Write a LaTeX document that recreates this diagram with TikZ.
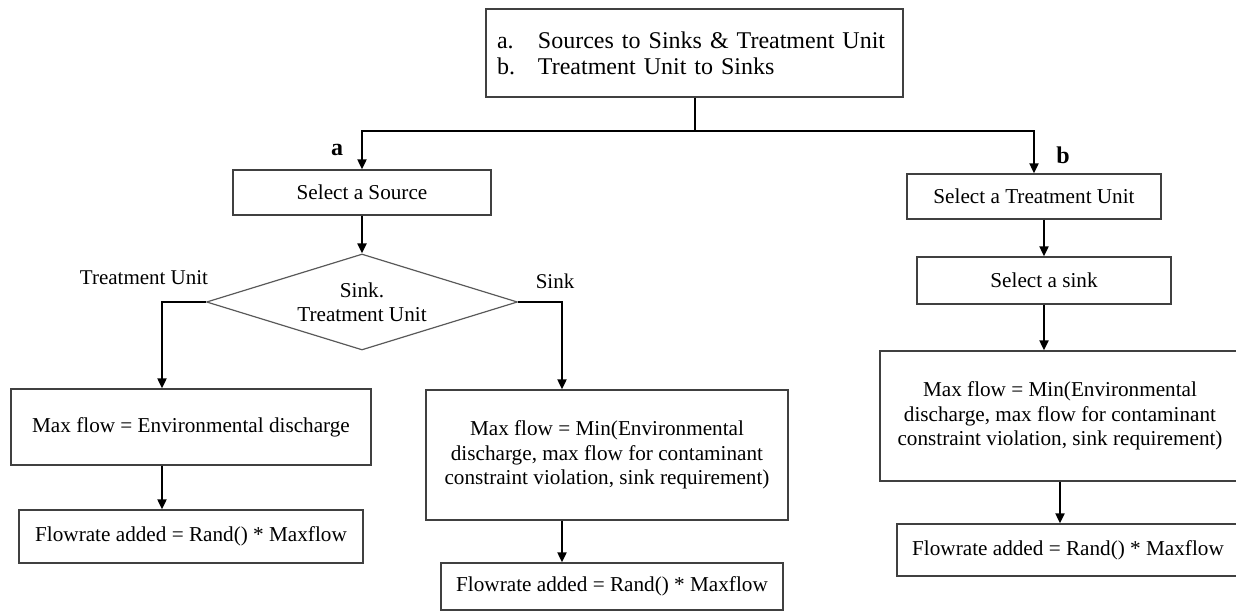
\documentclass[tikz,border=0pt]{standalone}
\usepackage{fontspec}
\setmainfont{Liberation Serif}
\usetikzlibrary{arrows.meta,shapes.geometric}
\begin{document}
\begin{tikzpicture}[x=1pt,y=-1pt,
  box/.style={draw=black!75,line width=1.3pt,rectangle,inner sep=0pt,align=center,
    font=\fontsize{21.2}{24.5}\selectfont},
  decision/.style={draw=black!65,line width=1.2pt,diamond,aspect=3.24,inner sep=0pt,
    align=center,font=\fontsize{21.2}{24.5}\selectfont},
  conn/.style={line width=2pt,-{Triangle[length=10pt,width=9pt]}},
  lbl/.style={font=\fontsize{21}{24}\selectfont,inner sep=0pt},
  tag/.style={font=\fontsize{24}{28}\selectfont\bfseries,inner sep=0pt}]
\useasboundingbox (0,0) rectangle (1236,612);

% header box with the two routing cases
\node[box,minimum width=417pt,minimum height=88pt,text width=395pt,align=left,
  inner xsep=11pt,font=\fontsize{24}{26}\selectfont] (top) at (694.5,53)
  {\makebox[41pt][l]{a.}Sources to Sinks \& Treatment Unit\\
   \makebox[41pt][l]{b.}Treatment Unit to Sinks};
\coordinate (bar) at (0,131);

% branch a: sources
\node[box,minimum width=258pt,minimum height=45pt] (src) at (362,192.5) {Select a Source};
\node[decision,minimum width=311pt,minimum height=96pt] (dia) at (362,302) {Sink.\\Treatment Unit};
\node[box,minimum width=360pt,minimum height=76pt] (mfe) at (191,427) {Max flow = Environmental discharge};
\node[box,minimum width=344pt,minimum height=53pt] (fr1) at (191,536.5) {Flowrate added = Rand() * Maxflow};
\node[box,minimum width=362pt,minimum height=130pt] (mmid) at (607,455)
  {Max flow = Min(Environmental\\discharge, max flow for contaminant\\constraint violation, sink requirement)};
\node[box,minimum width=342pt,minimum height=47pt] (fr2) at (612,586.5) {Flowrate added = Rand() * Maxflow};

% branch b: treatment units
\node[box,minimum width=254pt,minimum height=45pt] (tu) at (1034,196.5) {Select a Treatment Unit};
\node[box,minimum width=254pt,minimum height=47pt] (sk) at (1044,280.5) {Select a sink};
\node[box,minimum width=360pt,minimum height=130pt] (mfr) at (1060,416)
  {Max flow = Min(Environmental\\discharge, max flow for contaminant\\constraint violation, sink requirement)};
\node[box,minimum width=342pt,minimum height=52pt] (fr3) at (1068,550) {Flowrate added = Rand() * Maxflow};

% labels
\node[tag] (ta) at (337,150) {a};
\node[tag] (tb) at (1063,155) {b};
\node[lbl] (ltu) at (144,278) {Treatment Unit};
\node[lbl] (lsk) at (555,281) {Sink};

% verticals of the two decision branches
\coordinate (lx) at (162,0);
\coordinate (rx) at (562,0);

% connectors
\draw[conn] (top.south) -- (top.south |- bar) -| (src.north);
\draw[conn] (top.south |- bar) -| (tu.north);
\draw[conn] (src.south) -- (dia.north);
\draw[conn] (dia.west) -| (lx |- mfe.north);
\draw[conn] (lx |- mfe.south) -- (lx |- fr1.north);
\draw[conn] (dia.east) -| (rx |- mmid.north);
\draw[conn] (rx |- mmid.south) -- (rx |- fr2.north);
\draw[conn] (sk.north |- tu.south) -- (sk.north);
\draw[conn] (sk.south) -- (sk.south |- mfr.north);
\draw[conn] (mfr.south) -- (mfr.south |- fr3.north);
\end{tikzpicture}
\end{document}
